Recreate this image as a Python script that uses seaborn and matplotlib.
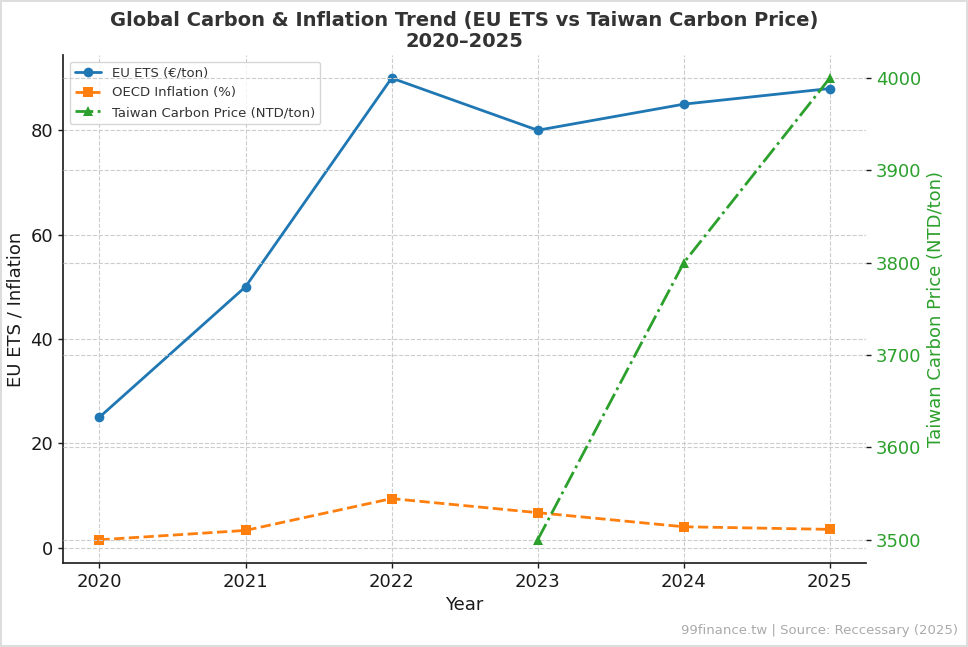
import pandas as pd
import matplotlib.pyplot as plt
import seaborn as sns

# data
years = [2020, 2021, 2022, 2023, 2024, 2025]
eu_ets = [25, 50, 90, 80, 85, 88]
oecd_inflation = [1.5, 3.3, 9.4, 6.7, 4.0, 3.5]
tw_years = [2023, 2024, 2025]
tw_price = [3500, 3800, 4000]

sns.set_theme(style="ticks")
plt.rcParams['font.family'] = ['DejaVu Sans']
plt.rcParams['text.color'] = '#1a1a1a'
plt.rcParams['axes.labelcolor'] = '#1a1a1a'
plt.rcParams['xtick.color'] = '#1a1a1a'
plt.rcParams['ytick.color'] = '#1a1a1a'

df = pd.DataFrame({'Year': years, 'EU ETS': eu_ets, 'OECD': oecd_inflation})
df_tw = pd.DataFrame({'Year': tw_years, 'Taiwan': tw_price})

fig, ax = plt.subplots(figsize=(9.68, 6.47), dpi=100)
fig.patch.set_edgecolor('#dddddd')
fig.patch.set_linewidth(1.5)

sns.lineplot(data=df, x='Year', y='EU ETS', ax=ax, color='#1f77b4', marker='o',
             markersize=7, markeredgewidth=0, linewidth=2, label='EU ETS (€/ton)')
sns.lineplot(data=df, x='Year', y='OECD', ax=ax, color='#ff7f0e', marker='s',
             markersize=7, markeredgewidth=0, linewidth=2, linestyle='--',
             label='OECD Inflation (%)')

ax2 = ax.twinx()
sns.lineplot(data=df_tw, x='Year', y='Taiwan', ax=ax2, color='#2ca02c', marker='^',
             markersize=7, markeredgewidth=0, linewidth=2, linestyle='-.',
             label='Taiwan Carbon Price (NTD/ton)', legend=False)

ax.set_xticks(years)
ax.set_xlabel('Year', fontsize=13)
ax.set_ylabel('EU ETS / Inflation', fontsize=13)
ax2.set_ylabel('Taiwan Carbon Price (NTD/ton)', fontsize=13, color='#2ca02c')
ax.tick_params(labelsize=13, length=3.5, width=1)
ax2.tick_params(axis='y', labelsize=13, labelcolor='#2ca02c', length=3.5, width=1)
ax2.set_yticks([3500, 3600, 3700, 3800, 3900, 4000])

ax.grid(True, linestyle='--', color='#cccccc', linewidth=0.8)
ax2.grid(True, axis='y', linestyle='--', color='#cccccc', linewidth=0.8)

for a in (ax, ax2):
    a.spines['top'].set_visible(False)
    a.spines['right'].set_visible(False)
ax2.spines['left'].set_visible(False)
ax2.spines['bottom'].set_visible(False)
ax.spines['left'].set_color('#222222')
ax.spines['bottom'].set_color('#222222')

h1, l1 = ax.get_legend_handles_labels()
h2, l2 = ax2.get_legend_handles_labels()
leg = ax.legend(h1 + h2, l1 + l2, loc='upper left', fontsize=9.5, frameon=True)
for t in leg.get_texts():
    t.set_color('#333333')

ax.set_title('Global Carbon & Inflation Trend (EU ETS vs Taiwan Carbon Price)\n2020–2025',
             fontsize=14, fontweight='bold', color='#333333', linespacing=1.1)

fig.text(0.99, 0.015, '99finance.tw | Source: Reccessary (2025)', ha='right', va='bottom',
         fontsize=9.5, color='#aaaaaa')

fig.subplots_adjust(left=0.065, right=0.895, top=0.915, bottom=0.13)
fig.savefig('out.png', dpi=100)
